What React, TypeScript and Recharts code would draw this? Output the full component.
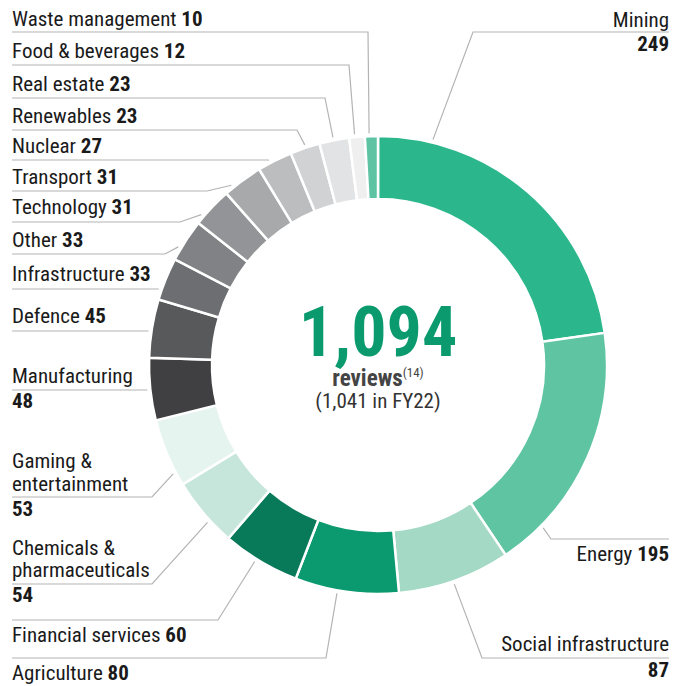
import React from 'react';
import { PieChart, Pie, Cell } from 'recharts';

const categories = [
  'Mining', 'Energy', 'Social infrastructure', 'Agriculture', 'Financial services',
  'Chemicals & pharmaceuticals', 'Gaming & entertainment', 'Manufacturing', 'Defence',
  'Infrastructure', 'Other', 'Technology', 'Transport', 'Nuclear', 'Renewables',
  'Real estate', 'Food & beverages', 'Waste management',
];
const values = [249, 195, 87, 80, 60, 54, 53, 48, 45, 33, 33, 31, 31, 27, 23, 23, 12, 10];
const colors = [
  '#2bb78b', '#5fc4a1', '#a3d9c5', '#0b9a6f', '#087a59', '#c6e6dc', '#e6f4f0',
  '#404042', '#58595b', '#6d6e71', '#818285', '#939497', '#a8a9ab', '#bcbdbf',
  '#d1d2d3', '#e2e3e4', '#efeff0', '#5dc3a3',
];
const totalLabel = '1,094';
const totalUnit = 'reviews';
const totalNote = '(14)';
const previousLabel = '(1,041 in FY22)';

// label layout: side, name lines + baselines, value baseline (null => inline), leader line
type LabelLayout = {
  side: 'L' | 'R';
  lines: string[];
  ys: number[];
  valueY: number | null;
  lineY: number;
  elbowX: number | null;
  anchor: number | null;
};
const layout: LabelLayout[] = [
  { side: 'R', lines: ['Mining'], ys: [27], valueY: 51, lineY: 32, elbowX: 473, anchor: 76.3 },
  { side: 'R', lines: ['Energy'], ys: [561], valueY: null, lineY: 539, elbowX: 551, anchor: -44.6 },
  { side: 'R', lines: ['Social infrastructure'], ys: [651], valueY: 677, lineY: 658, elbowX: 482, anchor: -70.8 },
  { side: 'L', lines: ['Agriculture'], ys: [680], valueY: null, lineY: 658, elbowX: 326, anchor: -100.2 },
  { side: 'L', lines: ['Financial services'], ys: [642], valueY: null, lineY: 620, elbowX: 218, anchor: -122.1 },
  { side: 'L', lines: ['Chemicals &', 'pharmaceuticals'], ys: [555, 577], valueY: 602, lineY: 584, elbowX: 152, anchor: -137.3 },
  { side: 'L', lines: ['Gaming &', 'entertainment'], ys: [468, 491], valueY: 516, lineY: 497, elbowX: 152, anchor: -152 },
  { side: 'L', lines: ['Manufacturing'], ys: [383], valueY: 408, lineY: 390, elbowX: null, anchor: null },
  { side: 'L', lines: ['Defence'], ys: [323], valueY: null, lineY: 331, elbowX: null, anchor: null },
  { side: 'L', lines: ['Infrastructure'], ys: [281], valueY: null, lineY: 289, elbowX: null, anchor: null },
  { side: 'L', lines: ['Other'], ys: [247], valueY: null, lineY: 254, elbowX: 165, anchor: 149.4 },
  { side: 'L', lines: ['Technology'], ys: [214], valueY: null, lineY: 222, elbowX: 180, anchor: 139.6 },
  { side: 'L', lines: ['Transport'], ys: [184], valueY: null, lineY: 191, elbowX: 207, anchor: 129.2 },
  { side: 'L', lines: ['Nuclear'], ys: [153], valueY: null, lineY: 160, elbowX: 268, anchor: 118.1 },
  { side: 'L', lines: ['Renewables'], ys: [123], valueY: null, lineY: 130, elbowX: 297, anchor: 108.4 },
  { side: 'L', lines: ['Real estate'], ys: [91], valueY: null, lineY: 98, elbowX: 325, anchor: 101.2 },
  { side: 'L', lines: ['Food & beverages'], ys: [58], valueY: null, lineY: 65, elbowX: 349, anchor: 95.8 },
  { side: 'L', lines: ['Waste management'], ys: [26], valueY: null, lineY: 32, elbowX: 368, anchor: 92.2 },
];

const data = categories.map((name, i) => ({ name, value: values[i] }));

const FONT = "'Liberation Sans Narrow', 'Roboto Condensed', 'DejaVu Sans Condensed', sans-serif";
const LEFT_X = 12;
const RIGHT_X = 669;
const TEXT = '#1a1a1a';
const LINE = '#b3b3b3';
const FS = 21;

const RAD = Math.PI / 180;

function renderLabel(props: any) {
  const { cx, cy, outerRadius, index, value } = props;
  const L = layout[index];
  const r = outerRadius + 3;
  let ex: number, ey: number;
  let pts: string;
  const sx = L.side === 'L' ? LEFT_X : RIGHT_X;
  if (L.anchor === null) {
    const dy = L.lineY - cy;
    ex = cx - Math.sqrt(r * r - dy * dy);
    ey = L.lineY;
    pts = `${sx},${L.lineY} ${ex},${ey}`;
  } else {
    ex = cx + r * Math.cos(L.anchor * RAD);
    ey = cy - r * Math.sin(L.anchor * RAD);
    pts = `${sx},${L.lineY} ${L.elbowX},${L.lineY} ${ex},${ey}`;
  }
  const anchor = L.side === 'L' ? 'start' : 'end';
  const x = sx;
  return (
    <g key={`lbl-${index}`}>
      <polyline points={pts} fill="none" stroke={LINE} strokeWidth={1.2} />
      {L.lines.map((ln, j) => (
        <text key={j} x={x} y={L.ys[j]} textAnchor={anchor} fontFamily={FONT} fontSize={FS} fill={TEXT}>
          <tspan>{ln}</tspan>
          {L.valueY === null && j === L.lines.length - 1 ? (
            <tspan fontWeight={700}>{` ${value}`}</tspan>
          ) : null}
        </text>
      ))}
      {L.valueY !== null ? (
        <text x={x} y={L.valueY} textAnchor={anchor} fontFamily={FONT} fontSize={FS} fontWeight={700} fill={TEXT}>
          {value}
        </text>
      ) : null}
      {index === 0 ? (
        <g>
          <text x={cx} y={cy - 9} textAnchor="middle" fontFamily={FONT} fontSize={70} fontWeight={700} fill="#0a9a6e">
            {totalLabel}
          </text>
          <text x={cx} y={cy + 21} textAnchor="middle" fontFamily={FONT} fontSize={23} fill="#444">
            <tspan fontWeight={700}>{totalUnit}</tspan>
            <tspan fontSize={13} dy={-9}>{totalNote}</tspan>
          </text>
          <text x={cx} y={cy + 43} textAnchor="middle" fontFamily={FONT} fontSize={21} fill="#333">
            {previousLabel}
          </text>
        </g>
      ) : null}
    </g>
  );
}

export default function App() {
  return (
    <div style={{ position: 'absolute', left: 0, top: 0, width: 686, height: 686, background: '#fff' }}>
      <PieChart width={686} height={686} margin={{ top: 0, right: 0, bottom: 0, left: 0 }}>
        <Pie
          data={data}
          dataKey="value"
          nameKey="name"
          cx={378}
          cy={365}
          innerRadius={166}
          outerRadius={229}
          startAngle={90}
          endAngle={-270}
          stroke="#ffffff"
          strokeWidth={2.5}
          isAnimationActive={false}
          label={renderLabel}
          labelLine={false}
        >
          {data.map((d, i) => (
            <Cell key={d.name} fill={colors[i]} />
          ))}
        </Pie>
      </PieChart>
    </div>
  );
}
